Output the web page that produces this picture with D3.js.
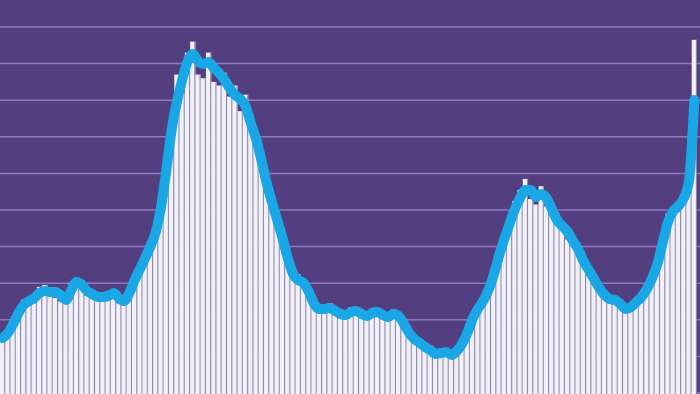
<!DOCTYPE html>
<html>
<head>
<meta charset="utf-8">
<script src="https://cdn.jsdelivr.net/npm/d3@7"></script>
<style>
  html, body { margin: 0; padding: 0; background: #533f80; overflow: hidden; }
  svg { display: block; }
</style>
</head>
<body>
<div id="chart"></div>
<script>
// daily counts (bars)
var dailyCases = [
  1560, 1700, 1800, 2300, 2550, 2380, 2450, 2900, 2950, 2880,
  2600, 2500, 2700, 3000, 3150, 3080, 2650, 2580, 2750, 2720,
  2780, 2600, 2450, 2650, 2900, 3250, 3550, 3500, 3850, 4600,
  5350, 6400, 7600, 8700, 8200, 9300, 9600, 8700, 8600, 9300,
  8500, 8400, 8750, 8100, 8400, 7700, 8150, 7600, 6700, 6100,
  5950, 5000, 4900, 4050, 3550, 3400, 3250, 2900, 2600, 2550,
  2400, 2200, 2450, 2130, 2050, 2250, 2350, 2120, 2050, 2200,
  2300, 2100, 2020, 2200, 2280, 1980, 1750, 1700, 1550, 1280,
  1180, 1250, 1120, 1020, 1060, 1100, 1220, 1260, 1560, 2150,
  2420, 2400, 2680, 3400, 3950, 4000, 4450, 5250, 5550, 5850,
  5300, 5150, 5650, 5100, 4850, 4900, 4700, 4200, 4000, 4100,
  3750, 3200, 2980, 3000, 2800, 2450, 2420, 2550, 2400, 2250,
  2380, 2750, 2980, 3000, 3380, 4300, 4900, 4800, 4950, 5500,
  6200, 9650
];

// 7-day average (line)
var weeklyAverage = [
  1500, 1640, 1885, 2186, 2404, 2513, 2595, 2732, 2787, 2759,
  2759, 2677, 2541, 2814, 3033, 2951, 2787, 2705, 2623, 2623,
  2650, 2732, 2595, 2513, 2732, 3087, 3388, 3688, 4016, 4399,
  5082, 6093, 7186, 7950, 8552, 9044, 9262, 9071, 8989, 9044,
  8880, 8743, 8552, 8333, 8142, 8033, 7842, 7377, 6940, 6366,
  5738, 5219, 4727, 4235, 3688, 3251, 3087, 3005, 2759, 2432,
  2295, 2295, 2322, 2240, 2158, 2131, 2213, 2240, 2158, 2104,
  2186, 2213, 2131, 2076, 2158, 2104, 1885, 1639, 1475, 1366,
  1257, 1175, 1066, 1093, 1120, 1038, 1147, 1339, 1639, 2022,
  2295, 2513, 2814, 3224, 3743, 4207, 4617, 5027, 5327, 5546,
  5546, 5355, 5437, 5327, 5027, 4727, 4562, 4399, 4153, 3934,
  3606, 3360, 3115, 2869, 2677, 2568, 2541, 2432, 2295, 2350,
  2486, 2623, 2841, 3142, 3524, 4098, 4672, 4972, 5109, 5327,
  5819, 8005
];

var gridValues = [0, 1000, 2000, 3000, 4000, 5000, 6000, 7000, 8000, 9000, 10000, 11000];

var days = d3.range(dailyCases.length);

var width = 700,
    height = 394;

var svg = d3.select("#chart").append("svg")
    .attr("width", width)
    .attr("height", height);

svg.append("rect")
    .attr("width", width)
    .attr("height", height)
    .attr("fill", "#533f80");

var x = d3.scaleBand()
    .domain(days)
    .range([0, 697])
    .paddingInner(0)
    .paddingOuter(0);

var y = d3.scaleLinear()
    .domain([0, 10000])
    .range([393, 27]);

// gridlines
svg.append("g")
    .selectAll("line")
    .data(gridValues)
    .enter().append("line")
    .attr("x1", 0)
    .attr("x2", width)
    .attr("y1", function (d) { return y(d); })
    .attr("y2", function (d) { return y(d); })
    .attr("stroke", "#8e78c4")
    .attr("stroke-width", 1.5);

// bars
var bars = svg.append("g")
    .selectAll("g")
    .data(dailyCases)
    .enter().append("g");

bars.append("rect")
    .attr("x", function (d, i) { return x(i); })
    .attr("width", x.bandwidth())
    .attr("y", function (d) { return y(d); })
    .attr("height", function (d) { return y(0) - y(d) + 2; })
    .attr("fill", "#f1eff7");

// thin grey separator on the right of each bar
bars.append("rect")
    .attr("x", function (d, i) { return x(i) + x.bandwidth() - 1.1; })
    .attr("width", 1.1)
    .attr("y", function (d) { return y(d); })
    .attr("height", function (d) { return y(0) - y(d) + 2; })
    .attr("fill", "#8d8aa6");

// average line
var line = d3.line()
    .x(function (d, i) { return x(i) + x.bandwidth() / 2; })
    .y(function (d) { return y(d); })
    .curve(d3.curveMonotoneX);

svg.append("path")
    .datum(weeklyAverage)
    .attr("d", line)
    .attr("fill", "none")
    .attr("stroke", "#19a7e6")
    .attr("stroke-width", 10)
    .attr("stroke-linejoin", "round")
    .attr("stroke-linecap", "round");
</script>
</body>
</html>
